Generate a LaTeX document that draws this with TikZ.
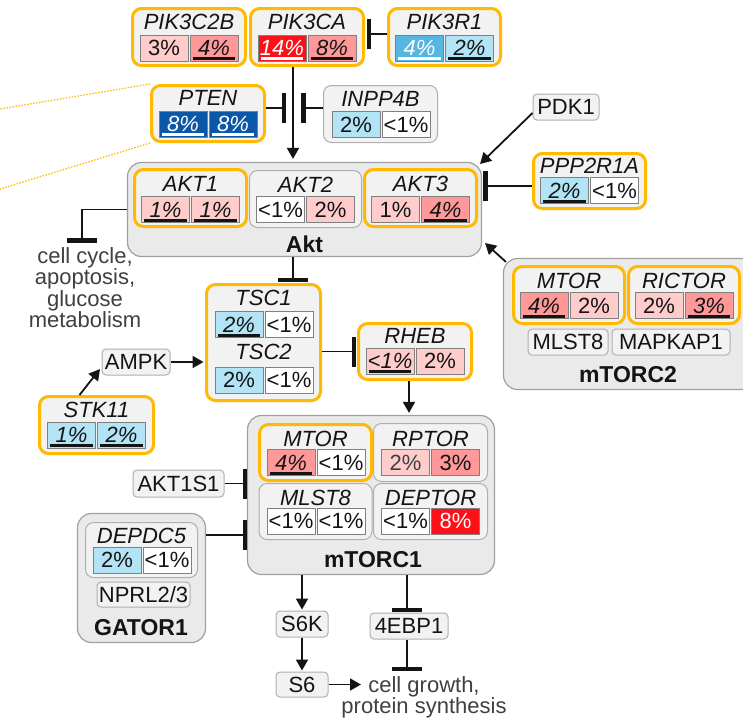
\documentclass[tikz,border=0pt]{standalone}
\usepackage{fontspec}
\setmainfont{Liberation Sans}
\usetikzlibrary{arrows.meta}
\definecolor{orng}{RGB}{255,185,0}
\definecolor{bfill}{RGB}{242,242,242}
\definecolor{cfill}{RGB}{234,234,234}
\definecolor{bgray}{RGB}{175,175,175}
\definecolor{cgray}{RGB}{160,160,160}
\definecolor{cellgray}{RGB}{128,128,128}
\definecolor{ink}{RGB}{20,20,20}
\definecolor{tgray}{RGB}{64,64,64}
\definecolor{lpink}{RGB}{255,204,204}
\definecolor{mpink}{RGB}{255,153,153}
\definecolor{cred}{RGB}{255,16,24}
\definecolor{lblue}{RGB}{178,228,246}
\definecolor{mblue}{RGB}{86,182,226}
\definecolor{dblue}{RGB}{12,88,168}
\newcommand\gf{\fontsize{22}{24}\selectfont}
\newcommand\cxf{\fontsize{23}{26}\selectfont\bfseries}
\newcommand\cellP[5]{\node[cellbox,fill=#3,text=#4] (#1) at (#2) {#5};}
\newcommand\cellU[5]{\node[cellbox,fill=#3,text=#4,font=\gf\itshape] (#1) at (#2) {#5};
  \draw[line width=3pt,draw=#4] ([xshift=3pt,yshift=2.8pt]#1.south west) -- ([xshift=-3pt,yshift=2.8pt]#1.south east);}
\begin{document}
\begin{tikzpicture}[x=1pt,y=-1pt,
  every node/.style={inner sep=0pt},
  obox/.style={draw=orng, line width=3pt, fill=bfill, rounded corners=9pt},
  gbox/.style={draw=bgray, line width=1pt, fill=bfill, rounded corners=8pt},
  cplx/.style={draw=cgray, line width=1.2pt, fill=cfill, rounded corners=14pt},
  plain/.style={draw=bgray, line width=1pt, fill=bfill, rounded corners=4pt, font=\gf, text=ink, text height=15.8pt, text depth=0pt, minimum height=26pt},
  gtitle/.style={font=\gf\itshape, text=ink, text height=15.8pt, text depth=0pt},
  ctitle/.style={font=\cxf, text=ink, text height=16.5pt, text depth=0pt},
  cellbox/.style={draw=cellgray, line width=0.8pt, minimum width=48pt, minimum height=26pt, font=\gf, text height=15.8pt, text depth=0pt},
  arr/.style={draw=ink, line width=1.8pt, -{Triangle[length=11pt,width=12pt]}},
  inh/.style={draw=ink, line width=1.8pt, -{Bar[width=30pt,line width=4.5pt]}},
  dotl/.style={draw=orng, line width=1.2pt, dash pattern=on 1.5pt off 1.5pt}
]
\useasboundingbox (0,0) rectangle (743,721);
\clip (0,0) rectangle (743,721);
\fill[white] (0,0) rectangle (743,721);

% complexes
\node[cplx, minimum width=354pt, minimum height=94pt] (Akt) at (304.5,209.5) {};
\node[cplx, minimum width=266pt, minimum height=131pt] (mTORC2) at (636.5,324) {};
\node[cplx, minimum width=247pt, minimum height=159pt] (mTORC1) at (371,495) {};
\node[cplx, minimum width=128pt, minimum height=129pt] (GATOR1) at (141.5,578) {};
\node[ctitle] (Aktl) at (304.5,244.5) {Akt};
\node[ctitle] (mTORC2l) at (628,374.5) {mTORC2};
\node[ctitle] (mTORC1l) at (373,559) {mTORC1};
\node[ctitle] (GATOR1l) at (141,627.5) {GATOR1};

% gene boxes
\node[obox, minimum width=113pt, minimum height=57pt] (PIK3C2B) at (189,37) {};
\node[obox, minimum width=113pt, minimum height=57pt] (PIK3CA) at (307,37) {};
\node[obox, minimum width=112pt, minimum height=57pt] (PIK3R1) at (444.5,37) {};
\node[obox, minimum width=113pt, minimum height=56pt] (PTEN) at (208,113.5) {};
\node[gbox, minimum width=114pt, minimum height=57pt] (INPP4B) at (380.5,114) {};
\node[obox, minimum width=112pt, minimum height=57pt] (AKT1) at (190.5,198) {};
\node[gbox, minimum width=112pt, minimum height=57pt] (AKT2) at (305.5,199) {};
\node[obox, minimum width=112pt, minimum height=57pt] (AKT3) at (420.5,198) {};
\node[obox, minimum width=112pt, minimum height=55pt] (PPP2R1A) at (589.5,181) {};
\node[obox, minimum width=111pt, minimum height=57pt] (MTORb) at (569,295) {};
\node[obox, minimum width=111pt, minimum height=57pt] (RICTOR) at (684,295) {};
\node[obox, minimum width=114pt, minimum height=116pt] (TSC) at (263.5,342.5) {};
\node[obox, minimum width=113pt, minimum height=56pt] (RHEB) at (415,351.5) {};
\node[obox, minimum width=114pt, minimum height=57pt] (STK11) at (96.5,425) {};
\node[obox, minimum width=112pt, minimum height=56pt] (MTORa) at (315.5,452.5) {};
\node[gbox, minimum width=114pt, minimum height=58pt] (RPTOR) at (430.5,452.5) {};
\node[gbox, minimum width=113pt, minimum height=56pt] (MLSTa) at (315.5,511.5) {};
\node[gbox, minimum width=114pt, minimum height=56pt] (DEPTOR) at (430.5,511.5) {};
\node[gbox, minimum width=112pt, minimum height=55pt] (DEPDC5) at (141.5,550) {};

% titles
\node[gtitle] (tPIK3C2B) at (189,22) {PIK3C2B};
\node[gtitle] (tPIK3CA) at (307,22) {PIK3CA};
\node[gtitle] (tPIK3R1) at (444.5,22) {PIK3R1};
\node[gtitle] (tPTEN) at (208,98) {PTEN};
\node[gtitle] (tINPP4B) at (380.5,98.5) {INPP4B};
\node[gtitle] (tAKT1) at (190.5,184) {AKT1};
\node[gtitle] (tAKT2) at (305.5,184.5) {AKT2};
\node[gtitle] (tAKT3) at (420.5,184) {AKT3};
\node[gtitle] (tPPP2R1A) at (589.5,165.5) {PPP2R1A};
\node[gtitle] (tMTORb) at (569,280.5) {MTOR};
\node[gtitle] (tRICTOR) at (684,280.5) {RICTOR};
\node[gtitle] (tTSC1) at (263.5,298) {TSC1};
\node[gtitle] (tTSC2) at (263.5,352) {TSC2};
\node[gtitle] (tRHEB) at (415,336) {RHEB};
\node[gtitle] (tSTK11) at (96.5,410) {STK11};
\node[gtitle] (tMTORa) at (315.5,438.5) {MTOR};
\node[gtitle] (tRPTOR) at (430.5,438.5) {RPTOR};
\node[gtitle] (tMLSTa) at (315.5,497.5) {MLST8};
\node[gtitle] (tDEPTOR) at (430.5,497.5) {DEPTOR};
\node[gtitle] (tDEPDC5) at (141.5,535.5) {DEPDC5};

% cells
\cellP{c1a}{164,48}{lpink}{ink}{3\%}
\cellU{c1b}{214,48}{mpink}{ink}{4\%}
\cellU{c2a}{282,48}{cred}{white}{14\%}
\cellU{c2b}{332,48}{mpink}{ink}{8\%}
\cellU{c3a}{419.5,48}{mblue}{white}{4\%}
\cellU{c3b}{469.5,48}{lblue}{ink}{2\%}
\cellU{c4a}{183,124}{dblue}{white}{8\%}
\cellU{c4b}{233,124}{dblue}{white}{8\%}
\cellP{c5a}{356,124.5}{lblue}{ink}{2\%}
\cellP{c5b}{406,124.5}{white}{ink}{<1\%}
\cellU{c6a}{165.5,209.5}{lpink}{ink}{1\%}
\cellU{c6b}{215.5,209.5}{lpink}{ink}{1\%}
\cellP{c7a}{280.5,209.5}{white}{ink}{<1\%}
\cellP{c7b}{330.5,209.5}{lpink}{ink}{2\%}
\cellP{c8a}{395.5,209.5}{lpink}{ink}{1\%}
\cellU{c8b}{445.5,209.5}{mpink}{ink}{4\%}
\cellU{c9a}{564.5,190.5}{lblue}{ink}{2\%}
\cellP{c9b}{614.5,190.5}{white}{ink}{<1\%}
\cellU{c10a}{544,305.5}{mpink}{ink}{4\%}
\cellP{c10b}{594,305.5}{lpink}{ink}{2\%}
\cellP{c11a}{659,305.5}{lpink}{ink}{2\%}
\cellU{c11b}{709,305.5}{mpink}{ink}{3\%}
\cellU{c12a}{239,324.5}{lblue}{ink}{2\%}
\cellP{c12b}{289,324.5}{white}{ink}{<1\%}
\cellP{c13a}{239,380}{lblue}{ink}{2\%}
\cellP{c13b}{289,380}{white}{ink}{<1\%}
\cellU{c14a}{390,361}{lpink}{ink}{<1\%}
\cellP{c14b}{440,361}{lpink}{ink}{2\%}
\cellU{c15a}{71.5,435}{lblue}{ink}{1\%}
\cellU{c15b}{121.5,435}{lblue}{ink}{2\%}
\cellU{c16a}{291,462.5}{mpink}{ink}{4\%}
\cellP{c16b}{341,462.5}{white}{ink}{<1\%}
\cellP{c17a}{405.5,462.5}{lpink}{tgray}{2\%}
\cellP{c17b}{455.5,462.5}{mpink}{ink}{3\%}
\cellP{c18a}{291,521}{white}{ink}{<1\%}
\cellP{c18b}{341,521}{white}{ink}{<1\%}
\cellP{c19a}{405.5,521}{white}{ink}{<1\%}
\cellP{c19b}{455.5,521}{cred}{white}{8\%}
\cellP{c20a}{117,560}{lblue}{ink}{2\%}
\cellP{c20b}{167,560}{white}{ink}{<1\%}

% plain nodes
\node[plain, minimum width=66pt] (PDK1) at (566,107) {PDK1};
\node[plain, minimum width=68pt] (AMPK) at (136,362) {AMPK};
\node[plain, minimum width=91pt, minimum height=27pt] (AKT1S1) at (178.5,483.5) {AKT1S1};
\node[plain, minimum width=80pt] (MLSTb) at (568,342) {MLST8};
\node[plain, minimum width=118pt] (MAPKAP1) at (671,342) {MAPKAP1};
\node[plain, minimum width=93pt, minimum height=25pt] (NPRL) at (143.5,594.5) {NPRL2/3};
\node[plain, minimum width=52pt] (S6K) at (302,624) {S6K};
\node[plain, minimum width=78pt] (eb) at (409,626) {4EBP1};
\node[plain, minimum width=52pt, minimum height=25pt] (S6) at (302,684.5) {S6};

% free texts
\node[font=\fontsize{22}{20}\selectfont, text=tgray, align=center, anchor=north] (cc) at (85,247) {cell cycle,\\apoptosis,\\glucose\\metabolism};
\node[font=\fontsize{22}{20}\selectfont, text=tgray, align=center, anchor=north] (gr) at (424,676) {cell growth,\\protein synthesis};

% coordinates
\coordinate (vx) at (293,0);
\coordinate (rx) at (409,0);
\coordinate (bR) at (366.5,34);
\coordinate (bP) at (286,108);
\coordinate (bI) at (301,108);
\coordinate (tP) at (480,164);
\coordinate (bQ) at (483,186);
\coordinate (tM) at (485,243);
\coordinate (bC) at (82,242.5);
\coordinate (bT) at (293,282);
\coordinate (tS) at (100,369);
\coordinate (bH) at (356,351.5);
\coordinate (bK) at (247,483.5);
\coordinate (bG) at (247,535);
\coordinate (b4) at (407,612);
\coordinate (tG) at (361,685);
\coordinate (b5) at (407,671);
\coordinate (d1) at (0,109);
\coordinate (d2) at (0,189);

% connectors
\draw[inh] ([yshift=3pt]PIK3R1.west) -- (bR);
\draw[arr, shorten >=3pt] (PIK3CA.south -| vx) -- (Akt.north -| vx);
\draw[inh] (PTEN.east |- bP) -- (bP);
\draw[inh] (INPP4B.west |- bI) -- (bI);
\draw[arr] ([yshift=-6pt]PDK1.west) -- (tP);
\draw[inh] (PPP2R1A.west |- bQ) -- (bQ);
\draw[arr] ([xshift=3pt,yshift=-4pt]mTORC2.north west) -- (tM);
\draw[inh] (Akt.west) -| (bC);
\draw[inh] (Akt.south -| vx) -- (bT);
\draw[arr, shorten >=1.5pt] (AMPK.east) -- (AMPK.east -| TSC.west);
\draw[arr] ([xshift=-17pt]STK11.north) -- (tS);
\draw[inh] (TSC.east |- bH) -- (bH);
\draw[arr, shorten >=2pt] (RHEB.south -| rx) -- (mTORC1.north -| rx);
\draw[inh] (AKT1S1.east) -- (bK);
\draw[inh] (GATOR1.east |- bG) -- (bG);
\draw[arr, shorten >=1pt] (mTORC1.south -| S6K.north) -- (S6K.north);
\draw[inh] (mTORC1.south -| b4) -- (b4);
\draw[arr, shorten >=1pt] (S6K.south) -- (S6.north);
\draw[arr] (S6.east) -- (S6.east -| tG);
\draw[inh] (eb.south -| b5) -- (b5);
\draw[dotl] (PTEN.north west) -- (d1);
\draw[dotl] (PTEN.south west) -- (d2);
\end{tikzpicture}
\end{document}
